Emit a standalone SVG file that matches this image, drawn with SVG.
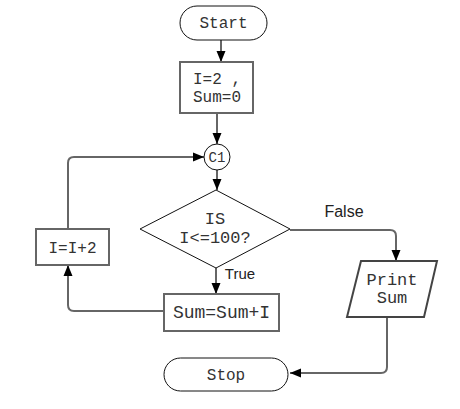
<svg xmlns="http://www.w3.org/2000/svg" width="460" height="409" viewBox="0 0 460 409">
<style>
.bg{fill:#fff}
.term{fill:#fff;stroke:#111;stroke-width:1}
.box{fill:#fff;stroke:#666;stroke-width:2}
.thin{fill:#fff;stroke:#111;stroke-width:1}
.conn{fill:none;stroke:#666;stroke-width:2}
.mono{font-family:"Liberation Mono","Courier New",monospace;fill:#333;text-anchor:middle}
.sans{font-family:"Liberation Sans",Arial,sans-serif;fill:#222;text-anchor:middle;font-size:16px}
</style>
<defs>
<marker id="arr" markerUnits="userSpaceOnUse" markerWidth="12" markerHeight="10" refX="11" refY="5" orient="auto">
<path d="M0,0.5 L11,5 L0,9.5 z" fill="#000"/>
</marker>
</defs>
<rect class="bg" x="0" y="0" width="460" height="409"/>
<g id="connectors">
<path class="conn" d="M221 40 V62" marker-end="url(#arr)"/>
<path class="conn" d="M217 113 V144" marker-end="url(#arr)"/>
<path class="conn" d="M217 170 V190" marker-end="url(#arr)"/>
<path class="conn" d="M216 268 V294" marker-end="url(#arr)"/>
<path class="conn" d="M164 311 H74 Q68 311 68 305 V265" marker-end="url(#arr)"/>
<path class="conn" d="M68 229 V163 Q68 157 74 157 H204" marker-end="url(#arr)"/>
<path class="conn" d="M290 230 H390 Q396 230 396 236 V261" marker-end="url(#arr)"/>
<path class="conn" d="M387 317 V367 Q387 373 381 373 H290" marker-end="url(#arr)"/>
<text class="sans" x="344" y="217">False</text>
<text class="sans" x="240" y="279" style="font-size:15px">True</text>
</g>
<g id="start">
<rect class="term" x="180" y="6" width="87" height="34" rx="17" ry="17"/>
<text class="mono" x="223.5" y="28" font-size="16">Start</text>
</g>
<g id="init">
<rect class="box" x="180" y="62" width="73" height="51"/>
<text class="mono" x="217" y="84" font-size="16">I=2 ,</text>
<text class="mono" x="217" y="102" font-size="16">Sum=0</text>
</g>
<g id="c1">
<circle class="thin" cx="217" cy="157" r="13"/>
<text class="mono" x="217" y="162" font-size="14">C1</text>
</g>
<g id="decision">
<polygon class="thin" points="216,190 290,229 216,268 140,229"/>
<text class="mono" x="215" y="224" font-size="17">IS</text>
<text class="mono" x="215" y="243" font-size="17">I&lt;=100?</text>
</g>
<g id="sum">
<rect class="box" x="164" y="294" width="115" height="37"/>
<text class="mono" x="221.5" y="318" font-size="18">Sum=Sum+I</text>
</g>
<g id="incr">
<rect class="box" x="36" y="229" width="73" height="36"/>
<text class="mono" x="72.5" y="253" font-size="16">I=I+2</text>
</g>
<g id="print">
<polygon class="box" points="361,261 437,261 424,317 347,317" style="stroke:#444"/>
<text class="mono" x="392" y="285" font-size="17">Print</text>
<text class="mono" x="392" y="303" font-size="17">Sum</text>
</g>
<g id="stop">
<rect class="term" x="164" y="358" width="124" height="33" rx="16.5" ry="16.5"/>
<text class="mono" x="226" y="380" font-size="16">Stop</text>
</g>
</svg>
